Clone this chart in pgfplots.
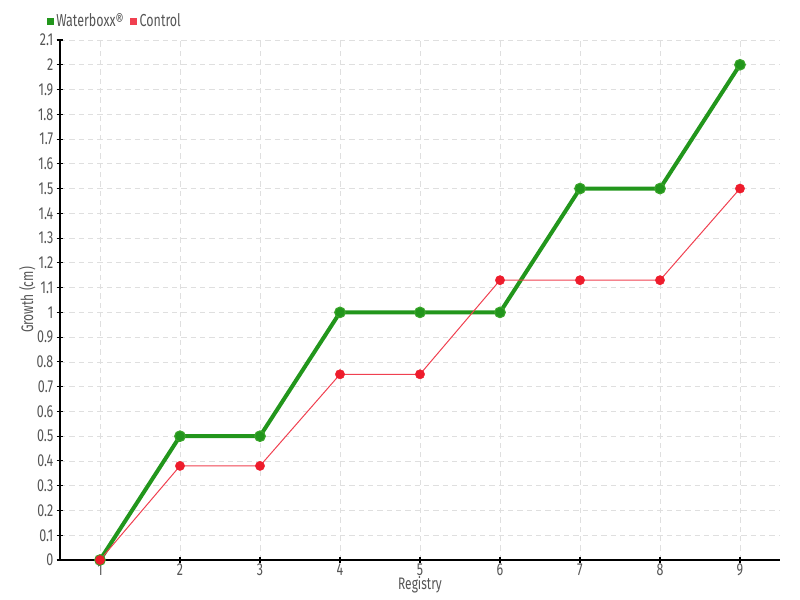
\documentclass[border=0pt]{standalone}
\usepackage{fontspec}
\setmainfont{Fira Sans}[FakeStretch=0.72]
\usepackage{pgfplots}
\pgfplotsset{compat=1.18}
\definecolor{wbgreen}{HTML}{22961C}
\definecolor{wbedge}{HTML}{3AA52A}
\definecolor{ctred}{HTML}{EE1C2C}
\definecolor{ctline}{HTML}{F04050}
\definecolor{txt}{HTML}{555555}
\begin{document}
\begin{tikzpicture}
\useasboundingbox (-45pt,-30pt) rectangle (555pt,420pt);
\begin{axis}[
    at={(0,0)}, anchor=south west,
    scale only axis,
    width=540pt, height=390pt,
    xmin=0.5, xmax=9.5,
    ymin=0, ymax=2.1,
    axis x line=bottom, axis y line=left,
    axis line style={-, black, line width=0.9pt},
    xtick={1,...,9},
    ytick={0,0.1,...,2.1},
    yticklabel style={/pgf/number format/fixed, /pgf/number format/precision=1, xshift=1pt},
    xticklabel style={yshift=1pt, inner sep=1pt},
    /pgf/number format/assume math mode=true,
    tick label style={font=\fontsize{13}{15}\selectfont, text=txt},
    tick align=center,
    major tick length=5pt,
    tick style={black, line width=0.8pt},
    grid=major,
    grid style={gray!25, dash pattern=on 4pt off 3pt, line width=0.6pt},
    xlabel={Registry},
    ylabel={Growth (cm)},
    label style={font=\fontsize{12.5}{14}\selectfont, text=txt},
    xlabel style={inner sep=0pt, yshift=1pt},
    ylabel style={yshift=-6pt},
    legend columns=-1,
    legend style={at={(0,1)}, anchor=west, xshift=-10pt, yshift=14pt,
        draw=none, fill=none, font=\fontsize{13}{15}\selectfont, text=txt,
        /tikz/every even column/.append style={column sep=3pt},
        inner sep=0pt},
    legend image code/.code={\fill[#1, draw=none] (0pt,-2.5pt) rectangle (5pt,2.5pt);},
]
\addplot[color=wbgreen, line width=3pt, mark=*, mark size=4pt,
    mark options={fill=wbgreen, draw=wbedge, line width=0.8pt}] coordinates {
    (1,0) (2,0.5) (3,0.5) (4,1.0) (5,1.0) (6,1.0) (7,1.5) (8,1.5) (9,2.0)
};
\addlegendentry{Waterboxx®}
\addplot[color=ctline, line width=0.75pt, mark=*, mark size=3.5pt,
    mark options={fill=ctred, draw=ctred, line width=0.3pt}] coordinates {
    (1,0) (2,0.38) (3,0.38) (4,0.75) (5,0.75) (6,1.13) (7,1.13) (8,1.13) (9,1.5)
};
\addlegendentry{Control}
\end{axis}
\end{tikzpicture}
\end{document}
